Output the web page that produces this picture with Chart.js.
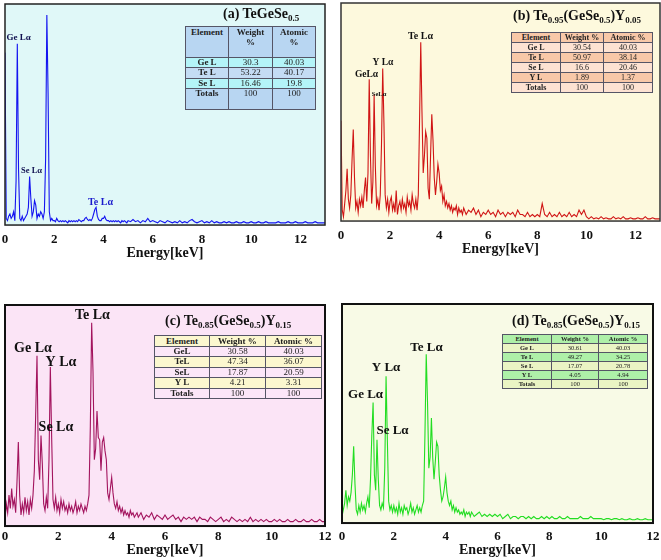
<!DOCTYPE html>
<html>
<head>
<meta charset="utf-8">
<script src="https://cdn.jsdelivr.net/npm/chart.js@4.4.0/dist/chart.umd.min.js"></script>
<style>
    body { margin: 0; background: #fff; width: 661px; height: 560px; position: relative; overflow: hidden;
           font-family: 'Liberation Serif', 'Times New Roman', serif; }
    canvas { position: absolute; }
    .title { position: absolute; font-weight: bold; font-size: 14px; line-height: 16px; white-space: nowrap; color: #111; }
    .title sub { font-size: 9px; vertical-align: -3px; line-height: 0; }
    table.comp { position: absolute; border-collapse: collapse; table-layout: fixed; color: #222; }
    table.comp td { border: 1px solid #556; text-align: center; padding: 0; overflow: hidden; white-space: nowrap; }
    table.comp td.el, table.comp tr.head td { font-weight: bold; }
</style>
</head>
<body>
<canvas id="specA" width="330" height="260" style="left:0;top:0"></canvas>
<canvas id="specB" width="331" height="256" style="left:330px;top:0"></canvas>
<canvas id="specC" width="335" height="277" style="left:0;top:280px"></canvas>
<canvas id="specD" width="331" height="277" style="left:330px;top:280px"></canvas>

<div class="title" style="left:223px;top:6px">(a) TeGeSe<sub>0.5</sub></div>
<div class="title" style="left:513px;top:8px">(b) Te<sub>0.95</sub>(GeSe<sub>0.5</sub>)Y<sub>0.05</sub></div>
<div class="title" style="left:165px;top:313px">(c) Te<sub>0.85</sub>(GeSe<sub>0.5</sub>)Y<sub>0.15</sub></div>
<div class="title" style="left:512px;top:313px">(d) Te<sub>0.85</sub>(GeSe<sub>0.5</sub>)Y<sub>0.15</sub></div>

<script>
// energy channels (keV)
const ENERGY = [
    0, 0.05, 0.1, 0.15, 0.2, 0.25, 0.3, 0.35, 0.4, 0.45,
    0.5, 0.55, 0.6, 0.65, 0.7, 0.75, 0.8, 0.85, 0.9, 0.95,
    1, 1.05, 1.1, 1.15, 1.2, 1.25, 1.3, 1.35, 1.4, 1.45,
    1.5, 1.55, 1.6, 1.65, 1.7, 1.75, 1.8, 1.85, 1.9, 1.95,
    2, 2.05, 2.1, 2.15, 2.2, 2.25, 2.3, 2.35, 2.4, 2.45,
    2.5, 2.55, 2.6, 2.65, 2.7, 2.75, 2.8, 2.85, 2.9, 2.95,
    3, 3.05, 3.1, 3.15, 3.2, 3.25, 3.3, 3.35, 3.4, 3.45,
    3.5, 3.55, 3.6, 3.65, 3.7, 3.75, 3.8, 3.85, 3.9, 3.95,
    4, 4.05, 4.1, 4.15, 4.2, 4.25, 4.3, 4.35, 4.4, 4.45,
    4.5, 4.55, 4.6, 4.65, 4.7, 4.75, 4.8, 4.85, 4.9, 4.95,
    5, 5.1, 5.2, 5.3, 5.4, 5.5, 5.6, 5.7, 5.8, 5.9,
    6, 6.1, 6.2, 6.3, 6.4, 6.5, 6.6, 6.7, 6.8, 6.9,
    7, 7.1, 7.2, 7.3, 7.4, 7.5, 7.6, 7.7, 7.8, 7.9,
    8, 8.1, 8.2, 8.3, 8.4, 8.5, 8.6, 8.7, 8.8, 8.9,
    9, 9.1, 9.2, 9.3, 9.4, 9.5, 9.6, 9.7, 9.8, 9.9,
    10, 10.1, 10.2, 10.3, 10.4, 10.5, 10.6, 10.7, 10.8, 10.9,
    11, 11.1, 11.2, 11.3, 11.4, 11.5, 11.6, 11.7, 11.8, 11.9,
    12, 12.1, 12.2, 12.3, 12.4, 12.5, 12.6, 12.7, 12.8, 12.9,
    13
];

// counts, % of full scale
const COUNTS_A = [
    78, 3, 2, 4, 5, 3, 4, 6, 2, 20,
    82, 25, 3, 2, 4, 2, 3, 4, 5, 8,
    22, 12, 4, 6, 11, 9, 3, 5, 4, 6,
    5, 3, 6, 30, 95, 60, 6, 2, 3, 2,
    2, 1.5, 3, 2, 1.5, 2, 1.5, 2, 1.5, 2,
    1.5, 1, 2, 1.5, 2, 1.5, 2, 1.5, 2, 1.5,
    2.5, 2, 1.5, 2, 2, 3, 3.5, 2.5, 2, 2.5,
    2, 3, 5, 7, 8, 4, 2.5, 2, 2, 3,
    3, 4, 2.5, 2, 2, 1.5, 2, 1.5, 2, 1.5,
    2, 1.5, 2, 1.5, 1, 2, 1.5, 2, 1.5, 1,
    2, 1.5, 2.5, 1.5, 2, 1, 2, 1.5, 3, 1.5,
    2, 1.5, 1, 2, 1.5, 1, 2, 1.5, 1, 1.5,
    1, 2, 1, 1.5, 1, 2, 2.5, 1.5, 1, 1.5,
    2, 1, 1.5, 1, 2, 1, 1.5, 1, 1, 1.5,
    1, 1.5, 1, 1, 1.5, 1, 1, 1.5, 1, 1,
    1.5, 1, 1, 1.5, 1, 1, 1.5, 1, 1, 1,
    1, 1.5, 1, 1, 1, 1.5, 1, 1, 1.5, 1,
    1, 1, 1.5, 1, 1, 1, 1.5, 1, 1, 1,
    1
];
const COUNTS_B = [
    46, 5, 2, 8, 14, 24, 10, 6, 12, 28,
    42, 20, 6, 9, 4, 10, 7, 11, 6, 14,
    20, 9, 22, 65, 30, 8, 18, 58, 25, 7,
    10, 5, 12, 35, 70, 45, 12, 6, 10, 4,
    9, 11, 5, 8, 4, 14, 3, 7, 9, 5,
    10, 6, 8, 4, 11, 7, 9, 5, 12, 8,
    6, 10, 5, 12, 45, 82, 50, 22, 30, 41,
    38, 15, 10, 30, 49, 37, 20, 12, 18, 26,
    22, 14, 16, 9, 12, 7, 9, 6, 8, 5,
    7, 4, 6, 5, 7, 3, 6, 4, 5, 3,
    6, 3, 5, 4, 6, 3, 5, 2, 4, 3,
    5, 3, 4, 2, 5, 3, 4, 2, 4, 3,
    4, 2, 5, 3, 3, 2, 4, 2, 3, 2,
    3, 2, 8, 3, 2, 4, 2, 3, 2, 4,
    2, 3, 2, 4, 2, 3, 2, 5, 3, 5,
    2, 1, 2, 1, 1.5, 1, 2, 1, 1.5, 1,
    1, 2, 1, 1.5, 1, 2, 1, 1, 1.5, 1,
    1, 1.5, 1, 1, 2, 1, 1, 1.5, 1, 1,
    1
];
const COUNTS_C = [
    3, 10, 6, 14, 8, 17, 9, 12, 6, 20,
    38, 14, 5, 10, 6, 13, 7, 11, 5, 12,
    8, 14, 25, 50, 77, 30, 21, 41, 28, 10,
    7, 13, 8, 30, 72, 40, 12, 8, 13, 7,
    10, 6, 12, 8, 11, 7, 9, 6, 10, 7,
    9, 6, 8, 11, 6, 9, 7, 10, 8, 6,
    9, 7, 10, 14, 45, 92, 70, 30, 35, 52,
    40, 39, 25, 38, 40, 34, 30, 15, 12, 17,
    22, 15, 10, 8, 11, 7, 9, 6, 8, 5,
    7, 5, 6, 4, 7, 5, 6, 4, 5, 6,
    4, 6, 3, 5, 4, 6, 3, 5, 4, 3,
    5, 3, 4, 5, 3, 4, 2, 4, 3, 4,
    3, 4, 2, 4, 3, 3, 2, 4, 3, 2,
    3, 4, 2, 3, 2, 4, 3, 2, 3, 2,
    3, 2, 4, 2, 3, 2, 3, 2, 3, 2,
    2, 3, 2, 3, 2, 2, 3, 2, 2, 3,
    2, 2, 3, 2, 2, 3, 2, 2, 3, 2,
    2, 2, 2, 2, 2, 2, 2, 2, 2, 2,
    2
];
const COUNTS_D = [
    3, 6, 9, 15, 8, 12, 10, 14, 22, 35,
    18, 6, 4, 8, 5, 9, 6, 8, 5, 9,
    12, 7, 20, 40, 55, 22, 15, 38, 20, 8,
    6, 9, 7, 25, 67, 38, 10, 6, 8, 5,
    8, 5, 7, 4, 9, 5, 7, 4, 8, 6,
    7, 4, 6, 9, 5, 7, 4, 6, 8, 5,
    7, 5, 8, 10, 40, 77, 55, 25, 30, 48,
    30, 20, 28, 37, 35, 22, 15, 10, 12, 16,
    21, 14, 10, 8, 10, 6, 8, 5, 7, 5,
    6, 4, 5, 4, 6, 3, 5, 4, 5, 3,
    5, 3, 4, 5, 3, 4, 3, 4, 3, 4,
    3, 4, 2, 3, 4, 2, 3, 3, 2, 3,
    3, 2, 3, 2, 3, 2, 2, 3, 2, 3,
    2, 3, 2, 2, 3, 2, 2, 3, 2, 2,
    2, 2, 3, 2, 2, 2, 3, 2, 2, 2,
    2, 1.5, 2, 2, 1.5, 2, 2, 1.5, 2, 1.5,
    1.5, 2, 1.5, 1.5, 2, 1.5, 1.5, 2, 1.5, 1.5,
    1.5, 1.5, 1.5, 1.5, 1.5, 1.5, 1.5, 1.5, 1.5, 1.5,
    1.5
];

// peak labels: [text, energy, height]
const PEAKS_A = [['Ge Lα', 0.55, 84.6], ['Se Lα', 1.08, 24.4], ['Te Lα', 3.88, 10.4]];
const PEAKS_B = [['Te Lα', 3.24, 84.9], ['Y Lα', 1.71, 72.9], ['GeLα', 1.04, 67], ['SeLα', 1.55, 58.3]];
const PEAKS_C = [['Te Lα', 3.28, 95.5], ['Ge Lα', 1.05, 80.5], ['Y Lα', 2.1, 74.2], ['Se Lα', 1.91, 44.8]];
const PEAKS_D = [['Te Lα', 3.26, 79.9], ['Y Lα', 1.7, 70.8], ['Ge Lα', 0.91, 58.4], ['Se Lα', 1.95, 42]];

// composition tables
const ELEM_A   = ['Ge L', 'Te L', 'Se L', 'Totals'];
const WEIGHT_A = ['30.3', '53.22', '16.46', '100'];
const ATOMIC_A = ['40.03', '40.17', '19.8', '100'];
const ELEM_B   = ['Ge L', 'Te L', 'Se L', 'Y L', 'Totals'];
const WEIGHT_B = ['30.54', '50.97', '16.6', '1.89', '100'];
const ATOMIC_B = ['40.03', '38.14', '20.46', '1.37', '100'];
const ELEM_C   = ['GeL', 'TeL', 'SeL', 'Y L', 'Totals'];
const WEIGHT_C = ['30.58', '47.34', '17.87', '4.21', '100'];
const ATOMIC_C = ['40.03', '36.07', '20.59', '3.31', '100'];
const ELEM_D   = ['Ge L', 'Te L', 'Se L', 'Y L', 'Totals'];
const WEIGHT_D = ['30.61', '49.27', '17.07', '4.05', '100'];
const ATOMIC_D = ['40.03', '34.25', '20.78', '4.94', '100'];

const SERIF = "'Liberation Serif', 'Times New Roman', serif";

// background, frame and peak labels
const framePlugin = {
    id: 'frame',
    beforeDatasetsDraw(chart, args, o) {
        const a = chart.chartArea, ctx = chart.ctx;
        ctx.save();
        ctx.fillStyle = o.bg;
        ctx.fillRect(a.left, a.top, a.right - a.left, a.bottom - a.top);
        ctx.restore();
    },
    afterDatasetsDraw(chart, args, o) {
        const a = chart.chartArea, ctx = chart.ctx;
        const xs = chart.scales.x, ys = chart.scales.y;
        ctx.save();
        ctx.strokeStyle = o.frame;
        ctx.lineWidth = o.frameWidth;
        ctx.strokeRect(a.left, a.top, a.right - a.left, a.bottom - a.top);
        ctx.textAlign = 'center';
        ctx.textBaseline = 'middle';
        o.peaks.forEach((p, i) => {
            ctx.font = 'bold ' + o.peakSize[i] + 'px ' + SERIF;
            ctx.fillStyle = o.peakColor[i];
            ctx.fillText(p[0], xs.getPixelForValue(p[1]), ys.getPixelForValue(p[2]));
        });
        ctx.restore();
    }
};

function make_chart(id, counts, color, xmax, pad, tickLen, frame) {
    new Chart(document.getElementById(id), {
        type: 'line',
        data: {
            datasets: [{
                data: ENERGY.map((e, i) => ({ x: e, y: counts[i] })),
                borderColor: color,
                borderWidth: 1.1,
                pointRadius: 0,
                tension: 0
            }]
        },
        options: {
            responsive: false,
            animation: false,
            layout: { padding: pad },
            plugins: { legend: { display: false }, tooltip: { enabled: false }, frame: frame },
            scales: {
                x: {
                    type: 'linear', min: 0, max: xmax,
                    grid: { display: false, tickLength: tickLen },
                    border: { display: false },
                    ticks: { stepSize: 2, includeBounds: false, padding: 0, color: '#111',
                             font: { family: SERIF, size: 13, weight: 'bold', lineHeight: 0.92 } },
                    title: { display: true, text: 'Energy[keV]', color: '#111', padding: 0,
                             font: { family: SERIF, size: 14, weight: 'bold', lineHeight: 1 } }
                },
                y: { display: false, min: 0, max: 100 }
            }
        },
        plugins: [framePlugin]
    });
}

function make_table(elems, weights, atomics, box, cols, rowH, fs, colors, head2) {
    const t = document.createElement('table');
    t.className = 'comp';
    t.style.left = box[0] + 'px';
    t.style.top = box[1] + 'px';
    t.style.width = (cols[0] + cols[1] + cols[2]) + 'px';
    t.style.fontSize = fs + 'px';
    let html = '<colgroup>' + cols.map(c => '<col style="width:' + c + 'px">').join('') + '</colgroup>';
    const head = head2 ? ['Element', 'Weight<br>%', 'Atomic<br>%'] : ['Element', 'Weight %', 'Atomic %'];
    html += '<tr class="head" style="height:' + rowH[0] + 'px;background:' + colors[0] + '">' +
        head.map(h => '<td style="vertical-align:top;line-height:' + (fs + 1) + 'px">' + h + '</td>').join('') + '</tr>';
    elems.forEach((e, i) => {
        html += '<tr style="height:' + rowH[i + 1] + 'px;background:' + colors[i + 1] + '">' +
            '<td class="el" style="vertical-align:top;line-height:' + (rowH[1] - 1) + 'px">' + e + '</td>' +
            '<td style="vertical-align:top;line-height:' + (rowH[1] - 1) + 'px">' + weights[i] + '</td>' +
            '<td style="vertical-align:top;line-height:' + (rowH[1] - 1) + 'px">' + atomics[i] + '</td></tr>';
    });
    t.innerHTML = html;
    document.body.appendChild(t);
}

window.onload = () => {
    make_chart('specA', COUNTS_A, '#1414f0', 13, { left: 5, top: 4, right: 5, bottom: 0 }, 9,
        { bg: '#e0f8f8', frame: '#222', frameWidth: 1.5, peaks: PEAKS_A,
          peakSize: [9, 8.5, 10], peakColor: ['#101050', '#101050', '#1a1acc'] });
    make_chart('specB', COUNTS_B, '#d01515', 13, { left: 11, top: 3, right: 1, bottom: 0 }, 9,
        { bg: '#fdf9dd', frame: '#333', frameWidth: 1.5, peaks: PEAKS_B,
          peakSize: [10, 9.5, 9.5, 6.5], peakColor: ['#111', '#111', '#111', '#111'] });
    make_chart('specC', COUNTS_C, '#a3145e', 12, { left: 5, top: 25, right: 10, bottom: 0 }, 5,
        { bg: '#fbe4f6', frame: '#111', frameWidth: 2, peaks: PEAKS_C,
          peakSize: [14, 14, 14, 14], peakColor: ['#111', '#111', '#111', '#111'] });
    make_chart('specD', COUNTS_D, '#22dd22', 12, { left: 12, top: 24, right: 8, bottom: 0 }, 8,
        { bg: '#f8fae6', frame: '#111', frameWidth: 2, peaks: PEAKS_D,
          peakSize: [13, 13, 13, 13], peakColor: ['#111', '#111', '#111', '#111'] });

    make_table(ELEM_A, WEIGHT_A, ATOMIC_A, [185, 26], [43, 44, 43], [31, 10, 11, 10, 21], 9,
        ['#b8d6f2', '#b4f4f8', '#c4dcf4', '#b4f4f8', '#b8d6f2'], true);
    make_table(ELEM_B, WEIGHT_B, ATOMIC_B, [511, 32], [49, 43, 49], [10, 10, 9, 10, 10, 10], 8,
        ['#f8c8a8', '#fde2d2', '#f8c8a8', '#fde2d2', '#f8c8a8', '#fde2d2'], false);
    make_table(ELEM_C, WEIGHT_C, ATOMIC_C, [154, 335], [55, 56, 56], [11, 10, 11, 10, 11, 10], 9,
        ['#fbf7cf', '#fbe6f8', '#fbf7cf', '#fbe6f8', '#fbf7cf', '#fbe6f8'], false);
    make_table(ELEM_D, WEIGHT_D, ATOMIC_D, [502, 334], [49, 47, 49], [9, 9, 9, 9, 9, 8], 6.5,
        ['#aef0a8', '#eaf4c4', '#aef0a8', '#eaf4c4', '#aef0a8', '#eaf4c4'], false);
};
</script>
</body>
</html>
